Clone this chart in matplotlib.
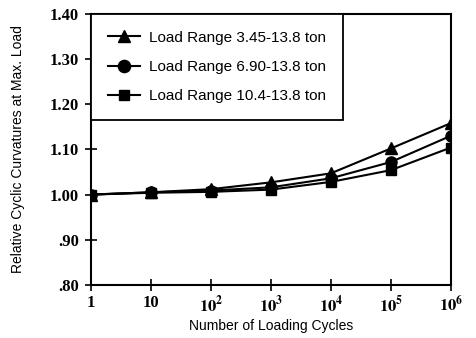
import matplotlib
matplotlib.use("Agg")
from matplotlib import pyplot as plt

# данные с картинки
cycles = [1, 10, 1e2, 1e3, 1e4, 1e5, 1e6]
range_345 = [1.00, 1.005, 1.012, 1.027, 1.047, 1.102, 1.158]
range_690 = [1.00, 1.005, 1.009, 1.016, 1.036, 1.072, 1.130]
range_104 = [1.00, 1.004, 1.006, 1.011, 1.028, 1.054, 1.104]
labels = ['Load Range 3.45-13.8 ton', 'Load Range 6.90-13.8 ton', 'Load Range 10.4-13.8 ton']
x_ticklabels = ['1', '10', r'$\mathbf{10^{2}}$', r'$\mathbf{10^{3}}$', r'$\mathbf{10^{4}}$',
                r'$\mathbf{10^{5}}$', r'$\mathbf{10^{6}}$']
y_ticks = [0.80, 0.90, 1.00, 1.10, 1.20, 1.30, 1.40]
y_ticklabels = ['.80', '.90', '1.00', '1.10', '1.20', '1.30', '1.40']

plt.rcParams['mathtext.fontset'] = 'stix'

fig = plt.figure(figsize=(4.76, 3.38), dpi=100)
ax = fig.add_axes([0.191, 0.157, 0.756, 0.802])

ax.plot(cycles, range_345, '-^', color='black', lw=1.5, ms=8, label=labels[0])
ax.plot(cycles, range_690, '-o', color='black', lw=1.5, ms=8, label=labels[1])
ax.plot(cycles, range_104, '-s', color='black', lw=1.5, ms=7, label=labels[2])

ax.set_xscale('log')
ax.set_xlim(1, 1e6)
ax.set_ylim(0.80, 1.40)
ax.set_xticks(cycles)
ax.set_xticklabels(x_ticklabels)
ax.minorticks_off()
ax.set_yticks(y_ticks)
ax.set_yticklabels(y_ticklabels)
for lab in ax.get_xticklabels() + ax.get_yticklabels():
    lab.set_family('Liberation Serif')
    lab.set_fontweight('bold')
    lab.set_fontsize(12)
ax.tick_params(direction='inout', length=9, width=1.2, pad=4)
ax.tick_params(axis='x', pad=3)
for s in ax.spines.values():
    s.set_linewidth(1.5)

ax.set_xlabel('Number of Loading Cycles', fontsize=10, family='Liberation Sans', labelpad=2)
ax.set_ylabel('Relative Cyclic Curvatures at Max. Load', fontsize=10, family='Liberation Sans', labelpad=18)

leg = ax.legend(loc='upper left', prop={'family': 'Liberation Sans', 'size': 11},
                fancybox=False, edgecolor='black', framealpha=1, borderaxespad=0,
                handlelength=2.1, handletextpad=0.6, labelspacing=1.0, borderpad=1.1,
                markerscale=1.1)
leg.get_frame().set_linewidth(1.3)

fig.savefig('out.png', dpi=100)
